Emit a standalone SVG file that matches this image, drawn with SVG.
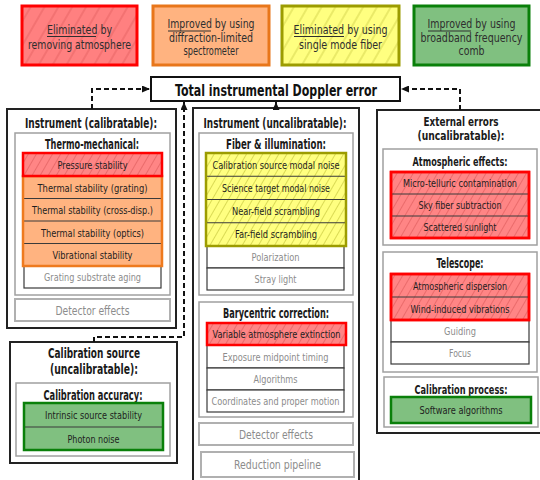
<svg xmlns="http://www.w3.org/2000/svg" width="540" height="480" viewBox="0 0 540 480">
<defs>
<style>
text{font-family:"Liberation Sans Narrow","DejaVu Sans Condensed","Liberation Sans",sans-serif;text-anchor:middle}
.ti{font-size:13.5px;font-weight:bold;fill:#1a1a1a}
.ti2{font-size:12.5px;font-weight:bold;fill:#1a1a1a}
.ti3{font-size:11.5px;font-weight:bold;fill:#1a1a1a}
.big{font-size:16px;font-weight:bold;fill:#111}
.rw{font-size:11px;fill:#1e1e1e}
.rws{font-size:10.5px;fill:#1e1e1e}
.gr{font-size:11px;fill:#8c8c8c}
.gb{font-size:12.5px;fill:#8c8c8c}
.lg{font-size:12.5px;fill:#2e2e2e}
.ul{stroke:#2e2e2e;stroke-width:1}
.outer{fill:#fff;stroke:#222;stroke-width:2}
.inner{fill:#fff;stroke:#a0a0a0;stroke-width:1.5}
.wrow{fill:#fff;stroke:#3a3a3a;stroke-width:1.2}
.gbox{fill:#fff;stroke:#b0b0b0;stroke-width:2}
.sep{stroke:#3a3a3a;stroke-width:1}
.red{fill:url(#hr);stroke:#ff0000;stroke-width:2.5}
.redb{fill:none;stroke:#ff0000;stroke-width:2.5}
.org{fill:#ffb380}
.orgb{fill:none;stroke:#ee7a1e;stroke-width:2.5}
.yel{fill:url(#hy)}
.yelb{fill:none;stroke:#9c9c00;stroke-width:2.5}
.grn{fill:#80c080}
.grnb{fill:none;stroke:#0a800a;stroke-width:2.5}
.con{fill:none;stroke:#111;stroke-width:2;stroke-dasharray:5 3}
</style>
<pattern id="hr" width="7" height="7" patternUnits="userSpaceOnUse" patternTransform="rotate(30)"><rect width="7" height="7" fill="#ff8585"/><line x1="3.5" y1="0" x2="3.5" y2="7" stroke="#e86868" stroke-width="0.9"/></pattern>
<pattern id="hy" width="7" height="7" patternUnits="userSpaceOnUse" patternTransform="rotate(30)"><rect width="7" height="7" fill="#ffff80"/><line x1="3.5" y1="0" x2="3.5" y2="7" stroke="#d6d650" stroke-width="0.9"/></pattern>
<pattern id="hrL" width="12" height="12" patternUnits="userSpaceOnUse" patternTransform="rotate(30)"><rect width="12" height="12" fill="#ff8080"/><line x1="6" y1="0" x2="6" y2="12" stroke="#e86464" stroke-width="1"/></pattern>
<pattern id="hyL" width="12" height="12" patternUnits="userSpaceOnUse" patternTransform="rotate(30)"><rect width="12" height="12" fill="#ffff80"/><line x1="6" y1="0" x2="6" y2="12" stroke="#d6d650" stroke-width="1"/></pattern>
<marker id="ah" viewBox="0 0 8 7" refX="8" refY="3.5" markerWidth="8" markerHeight="7" markerUnits="userSpaceOnUse" orient="auto"><path d="M0,0 L8,3.5 L0,7 z" fill="#111"/></marker>
</defs>
<rect width="540" height="480" fill="#fff"/>

<!-- legend -->
<g id="legend-red">
<rect x="22" y="6" width="115" height="59" fill="url(#hrL)" stroke="#ff0000" stroke-width="3"/>
<text class="lg" x="79.5" y="34" textLength="65" lengthAdjust="spacingAndGlyphs">Eliminated by</text>
<line class="ul" x1="47" y1="36.5" x2="96" y2="36.5"/>
<text class="lg" x="79.5" y="48.5" textLength="103" lengthAdjust="spacingAndGlyphs">removing atmosphere</text>
</g>
<g id="legend-orange">
<rect x="153" y="6" width="116" height="59" fill="#ffb380" stroke="#e8761a" stroke-width="3"/>
<text class="lg" x="211" y="28" textLength="87" lengthAdjust="spacingAndGlyphs">Improved by using</text>
<line class="ul" x1="168" y1="31" x2="211" y2="31"/>
<text class="lg" x="211" y="41.5" textLength="84" lengthAdjust="spacingAndGlyphs">diffraction-limited</text>
<text class="lg" x="211" y="55" textLength="55" lengthAdjust="spacingAndGlyphs">spectrometer</text>
</g>
<g id="legend-yellow">
<rect x="282" y="6" width="117" height="59" fill="url(#hyL)" stroke="#9c9c00" stroke-width="3"/>
<text class="lg" x="340.5" y="34" textLength="94" lengthAdjust="spacingAndGlyphs">Eliminated by using</text>
<line class="ul" x1="294" y1="36.5" x2="344" y2="36.5"/>
<text class="lg" x="340.5" y="48.5" textLength="83" lengthAdjust="spacingAndGlyphs">single mode fiber</text>
</g>
<g id="legend-green">
<rect x="414" y="6" width="115" height="59" fill="#80c080" stroke="#0a800a" stroke-width="3"/>
<text class="lg" x="471.5" y="28" textLength="88" lengthAdjust="spacingAndGlyphs">Improved by using</text>
<line class="ul" x1="428" y1="31" x2="471" y2="31"/>
<text class="lg" x="471.5" y="41.5" textLength="102" lengthAdjust="spacingAndGlyphs">broadband frequency</text>
<text class="lg" x="471.5" y="55" textLength="26" lengthAdjust="spacingAndGlyphs">comb</text>
</g>

<!-- total -->
<g id="total">
<rect x="151" y="77" width="249" height="24" fill="#fff" stroke="#111" stroke-width="2"/>
<text class="big" x="276" y="96" textLength="202" lengthAdjust="spacingAndGlyphs">Total instrumental Doppler error</text>
</g>

<!-- left: instrument calibratable -->
<g id="instrument-calibratable">
<rect class="outer" x="7" y="109" width="169" height="219"/>
<text class="ti" x="91" y="128" textLength="132" lengthAdjust="spacingAndGlyphs">Instrument (calibratable):</text>
<g id="thermo-mechanical">
<rect class="inner" x="15" y="133" width="155" height="162"/>
<text class="ti" x="92" y="149" textLength="94" lengthAdjust="spacingAndGlyphs">Thermo-mechanical:</text>
<g id="grating-aging"><rect class="wrow" x="24" y="266" width="137" height="22"/><text class="gr" x="92.5" y="281" textLength="97" lengthAdjust="spacingAndGlyphs">Grating substrate aging</text></g>
<g id="thermal-orange">
<rect class="org" x="23" y="176" width="139" height="90"/>
<line class="sep" x1="23" y1="198.5" x2="162" y2="198.5"/>
<line class="sep" x1="23" y1="221" x2="162" y2="221"/>
<line class="sep" x1="23" y1="243.5" x2="162" y2="243.5"/>
<rect class="orgb" x="23" y="176" width="139" height="90"/>
<text class="rw" x="92.5" y="191.5" textLength="110" lengthAdjust="spacingAndGlyphs">Thermal stability (grating)</text>
<text class="rw" x="92.5" y="214" textLength="121" lengthAdjust="spacingAndGlyphs">Thermal stability (cross-disp.)</text>
<text class="rw" x="92.5" y="236.5" textLength="103" lengthAdjust="spacingAndGlyphs">Thermal stability (optics)</text>
<text class="rw" x="92.5" y="259" textLength="80" lengthAdjust="spacingAndGlyphs">Vibrational stability</text>
</g>
<g id="pressure-stability"><rect class="red" x="23" y="153" width="139" height="23"/><text class="rw" x="92.5" y="168.5" textLength="70" lengthAdjust="spacingAndGlyphs">Pressure stability</text></g>
</g>
<g id="detector-effects-1"><rect class="gbox" x="15" y="299" width="155" height="22"/><text class="gb" x="92.5" y="314.5" textLength="74" lengthAdjust="spacingAndGlyphs">Detector effects</text></g>
</g>

<!-- calibration source -->
<g id="calibration-source">
<rect class="outer" x="10" y="342" width="167" height="121"/>
<text class="ti" x="94" y="358" textLength="92" lengthAdjust="spacingAndGlyphs">Calibration source</text>
<text class="ti" x="94" y="374" textLength="88" lengthAdjust="spacingAndGlyphs">(uncalibratable):</text>
<g id="calibration-accuracy">
<rect class="inner" x="16" y="383" width="154" height="73"/>
<text class="ti" x="93" y="400" textLength="99" lengthAdjust="spacingAndGlyphs">Calibration accuracy:</text>
<rect class="grn" x="24" y="403" width="139" height="47"/>
<line class="sep" x1="24" y1="427" x2="163" y2="427"/>
<rect class="grnb" x="24" y="403" width="139" height="47"/>
<text class="rw" x="93.5" y="419" textLength="97" lengthAdjust="spacingAndGlyphs">Intrinsic source stability</text>
<text class="rw" x="93.5" y="442.5" textLength="52" lengthAdjust="spacingAndGlyphs">Photon noise</text>
</g>
</g>

<!-- middle: instrument uncalibratable -->
<g id="instrument-uncalibratable">
<rect class="outer" x="193" y="108" width="166" height="376"/>
<text class="ti" x="275" y="128" textLength="143" lengthAdjust="spacingAndGlyphs">Instrument (uncalibratable):</text>
<g id="fiber-illumination">
<rect class="inner" x="199" y="133" width="154" height="162"/>
<text class="ti" x="276" y="148.5" textLength="100" lengthAdjust="spacingAndGlyphs">Fiber &amp; illumination:</text>
<g id="polarization"><rect class="wrow" x="207" y="246" width="137" height="22"/><text class="gr" x="275.5" y="261" textLength="48" lengthAdjust="spacingAndGlyphs">Polarization</text></g>
<g id="stray-light"><rect class="wrow" x="207" y="268" width="137" height="22"/><text class="gr" x="275.5" y="283" textLength="42" lengthAdjust="spacingAndGlyphs">Stray light</text></g>
<g id="fiber-yellow">
<rect class="yel" x="206" y="153" width="140" height="93"/>
<line class="sep" x1="206" y1="176.25" x2="346" y2="176.25"/>
<line class="sep" x1="206" y1="199.5" x2="346" y2="199.5"/>
<line class="sep" x1="206" y1="222.75" x2="346" y2="222.75"/>
<rect class="yelb" x="206" y="153" width="140" height="93"/>
<text class="rw" x="276" y="168.5" textLength="127" lengthAdjust="spacingAndGlyphs">Calibration source modal noise</text>
<text class="rw" x="276" y="191.8" textLength="108" lengthAdjust="spacingAndGlyphs">Science target modal noise</text>
<text class="rw" x="276" y="215" textLength="88" lengthAdjust="spacingAndGlyphs">Near-field scrambling</text>
<text class="rw" x="276" y="238.3" textLength="82" lengthAdjust="spacingAndGlyphs">Far-field scrambling</text>
</g>
</g>
<g id="barycentric-correction">
<rect class="inner" x="199" y="302" width="154" height="115"/>
<text class="ti" x="276" y="317.5" textLength="106" lengthAdjust="spacingAndGlyphs">Barycentric correction:</text>
<g id="exposure"><rect class="wrow" x="207" y="345" width="137" height="23"/><text class="gr" x="275.5" y="360.5" textLength="106" lengthAdjust="spacingAndGlyphs">Exposure midpoint timing</text></g>
<g id="algorithms"><rect class="wrow" x="207" y="368" width="137" height="22"/><text class="gr" x="275.5" y="383" textLength="44" lengthAdjust="spacingAndGlyphs">Algorithms</text></g>
<g id="coordinates"><rect class="wrow" x="207" y="390" width="137" height="22"/><text class="gr" x="275.5" y="405" textLength="128" lengthAdjust="spacingAndGlyphs">Coordinates and proper motion</text></g>
<g id="variable-extinction"><rect class="red" x="207" y="323" width="139" height="22"/><text class="rw" x="276.5" y="338" textLength="128" lengthAdjust="spacingAndGlyphs">Variable atmosphere extinction</text></g>
</g>
<g id="detector-effects-2"><rect class="gbox" x="199" y="423" width="154" height="22"/><text class="gb" x="276" y="438.5" textLength="74" lengthAdjust="spacingAndGlyphs">Detector effects</text></g>
<g id="reduction-pipeline"><rect class="gbox" x="201" y="452" width="153" height="25"/><text class="gb" x="277.5" y="469" textLength="87" lengthAdjust="spacingAndGlyphs">Reduction pipeline</text></g>
</g>

<!-- right: external errors -->
<g id="external-errors">
<rect class="outer" x="377" y="110" width="166" height="323"/>
<text class="ti2" x="461" y="126" textLength="75" lengthAdjust="spacingAndGlyphs">External errors</text>
<text class="ti2" x="461" y="140" textLength="87" lengthAdjust="spacingAndGlyphs">(uncalibratable):</text>
<g id="atmospheric-effects">
<rect class="inner" x="383" y="149" width="154" height="96"/>
<text class="ti3" x="460" y="166" textLength="95" lengthAdjust="spacingAndGlyphs">Atmospheric effects:</text>
<rect class="red" x="391" y="172" width="138" height="66"/>
<line class="sep" x1="391" y1="194" x2="529" y2="194"/>
<line class="sep" x1="391" y1="216" x2="529" y2="216"/>
<rect class="redb" x="391" y="172" width="138" height="66"/>
<text class="rws" x="460" y="187" textLength="114" lengthAdjust="spacingAndGlyphs">Micro-telluric contamination</text>
<text class="rw" x="460" y="209" textLength="83" lengthAdjust="spacingAndGlyphs">Sky fiber subtraction</text>
<text class="rw" x="460" y="231" textLength="73" lengthAdjust="spacingAndGlyphs">Scattered sunlight</text>
</g>
<g id="telescope">
<rect class="inner" x="383" y="252" width="154" height="120"/>
<text class="ti" x="460" y="268" textLength="47" lengthAdjust="spacingAndGlyphs">Telescope:</text>
<g id="guiding"><rect class="wrow" x="391" y="320" width="138" height="22"/><text class="gr" x="460" y="335" textLength="32" lengthAdjust="spacingAndGlyphs">Guiding</text></g>
<g id="focus"><rect class="wrow" x="391" y="342" width="138" height="22"/><text class="gr" x="460" y="357" textLength="22" lengthAdjust="spacingAndGlyphs">Focus</text></g>
<rect class="red" x="391" y="274" width="138" height="46"/>
<line class="sep" x1="391" y1="297" x2="529" y2="297"/>
<rect class="redb" x="391" y="274" width="138" height="46"/>
<text class="rw" x="460" y="289.5" textLength="94" lengthAdjust="spacingAndGlyphs">Atmospheric dispersion</text>
<text class="rw" x="460" y="312.5" textLength="99" lengthAdjust="spacingAndGlyphs">Wind-induced vibrations</text>
</g>
<g id="calibration-process">
<rect class="inner" x="384" y="377" width="154" height="50"/>
<text class="ti3" x="461" y="394" textLength="93" lengthAdjust="spacingAndGlyphs">Calibration process:</text>
<rect class="grn" x="391" y="397" width="140" height="26"/>
<rect class="grnb" x="391" y="397" width="140" height="26"/>
<text class="rw" x="461" y="414" textLength="83" lengthAdjust="spacingAndGlyphs">Software algorithms</text>
</g>
</g>

<!-- connectors -->
<g id="connectors">
<path class="con" d="M92,109 V89 H150" marker-end="url(#ah)"/>
<path class="con" d="M460,110 V89 H401" marker-end="url(#ah)"/>
<path class="con" d="M94,342 V337 H184 V102" marker-end="url(#ah)"/>
<path fill="none" stroke="#111" stroke-width="2" d="M276,108 V102" marker-end="url(#ah)"/>
</g>
</svg>
